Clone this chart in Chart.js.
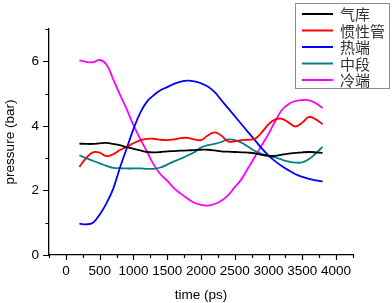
<!DOCTYPE html>
<html>
<head>
<meta charset="utf-8">
<script src="https://cdn.jsdelivr.net/npm/chart.js@4/dist/chart.umd.min.js"></script>
<style>
  html, body { margin: 0; padding: 0; background: #fff; }
  #wrap { width: 392px; height: 303px; }
</style>
</head>
<body>
<div id="wrap"><canvas id="pChart"></canvas></div>
<script>
// time axis (ps)
const times = [200, 300, 400, 500, 600, 700, 800, 900, 1000, 1100, 1200, 1300, 1400, 1500, 1600, 1700, 1800, 1900,
               2000, 2100, 2200, 2300, 2400, 2500, 2600, 2700, 2800, 2900, 3000, 3100, 3200, 3300, 3400, 3500, 3600, 3700, 3800];

// pressure (bar)
const reservoir = [3.45, 3.44, 3.44, 3.46, 3.47, 3.44, 3.40, 3.34, 3.29, 3.24, 3.19, 3.18, 3.19, 3.21, 3.22, 3.23, 3.24, 3.25,
                   3.26, 3.26, 3.24, 3.21, 3.20, 3.19, 3.18, 3.17, 3.15, 3.10, 3.07, 3.07, 3.11, 3.14, 3.16, 3.18, 3.19, 3.18, 3.16];
const inertance = [2.73, 3.00, 3.18, 3.17, 3.06, 3.12, 3.25, 3.35, 3.46, 3.55, 3.60, 3.60, 3.57, 3.56, 3.58, 3.62, 3.63, 3.58,
                   3.56, 3.70, 3.80, 3.70, 3.52, 3.52, 3.56, 3.57, 3.60, 3.80, 4.05, 4.20, 4.22, 4.10, 3.98, 4.10, 4.28, 4.20, 4.05];
const hotEnd    = [0.97, 0.95, 1.00, 1.25, 1.60, 2.05, 2.70, 3.30, 3.90, 4.40, 4.75, 4.95, 5.10, 5.20, 5.30, 5.37, 5.40, 5.38,
                   5.32, 5.22, 5.05, 4.80, 4.55, 4.30, 4.05, 3.80, 3.55, 3.30, 3.08, 2.90, 2.75, 2.62, 2.50, 2.42, 2.36, 2.31, 2.28];
const middle    = [3.09, 3.00, 2.92, 2.84, 2.76, 2.70, 2.69, 2.68, 2.68, 2.68, 2.67, 2.67, 2.71, 2.80, 2.90, 2.98, 3.08, 3.18,
                   3.33, 3.40, 3.44, 3.50, 3.58, 3.56, 3.48, 3.35, 3.22, 3.13, 3.07, 3.02, 2.95, 2.89, 2.86, 2.87, 2.97, 3.15, 3.35];
const coldEnd   = [6.03, 5.98, 5.97, 6.04, 5.90, 5.45, 4.97, 4.52, 4.02, 3.60, 3.20, 2.80, 2.50, 2.30, 2.07, 1.90, 1.75, 1.62,
                   1.55, 1.53, 1.58, 1.68, 1.85, 2.10, 2.35, 2.70, 3.05, 3.40, 3.75, 4.15, 4.50, 4.68, 4.77, 4.80, 4.79, 4.70, 4.55];

const seriesNames  = ['气库', '惯性管', '热端', '中段', '冷端'];
const seriesColors = ['#000000', '#ff0000', '#0000ff', '#008080', '#ff00ff'];
const seriesValues = [reservoir, inertance, hotEnd, middle, coldEnd];

const FONT = '"Liberation Sans", Arial, sans-serif';

function toPoints(ys) {
    return times.map((t, i) => ({ x: t, y: ys[i] }));
}

// Major/minor tick marks, outward, like the original plot
const tickMarks = {
    id: 'tickMarks',
    afterDraw(chart) {
        const ctx = chart.ctx;
        const xs = chart.scales.x, ys = chart.scales.y;
        const area = chart.chartArea;
        ctx.save();
        ctx.strokeStyle = '#000';
        ctx.lineWidth = 1.2;
        ctx.beginPath();
        for (let v = 0; v <= 7; v++) {
            const py = Math.round(ys.getPixelForValue(v)) + 0.5;
            const len = v % 2 === 0 ? 6 : 3.5;
            ctx.moveTo(area.left, py);
            ctx.lineTo(area.left - len, py);
        }
        for (let v = -250; v <= 4250; v += 250) {
            const px = Math.round(xs.getPixelForValue(v)) + 0.5;
            const len = v % 500 === 0 ? 5 : 3;
            ctx.moveTo(px, area.bottom);
            ctx.lineTo(px, area.bottom + len);
        }
        ctx.stroke();
        ctx.restore();
    }
};

// Boxed legend in the top right corner
const boxLegend = {
    id: 'boxLegend',
    afterDraw(chart) {
        const ctx = chart.ctx;
        const left = 295.5, top = 3.5, w = 94, h = 85;
        ctx.save();
        ctx.fillStyle = '#fff';
        ctx.fillRect(left, top, w, h);
        ctx.strokeStyle = '#8c8c8c';
        ctx.lineWidth = 1;
        ctx.strokeRect(left, top, w, h);
        ctx.font = '15px "Noto Sans CJK SC", sans-serif';
        ctx.textBaseline = 'middle';
        chart.data.datasets.forEach((ds, i) => {
            const y = 14 + i * 16.5;
            ctx.strokeStyle = ds.borderColor;
            ctx.lineWidth = 2;
            ctx.beginPath();
            ctx.moveTo(302, y);
            ctx.lineTo(333, y);
            ctx.stroke();
            ctx.fillStyle = '#333';
            ctx.fillText(ds.label, 340, y + 0.5);
        });
        ctx.restore();
    }
};

const ctx = document.getElementById('pChart').getContext('2d');
new Chart(ctx, {
    type: 'line',
    data: {
        datasets: seriesNames.map((name, i) => ({
            label: name,
            data: toPoints(seriesValues[i]),
            borderColor: seriesColors[i],
            backgroundColor: seriesColors[i],
            borderWidth: 1.8,
            pointRadius: 0,
            tension: 0.4,
            fill: false
        }))
    },
    options: {
        responsive: true,
        maintainAspectRatio: false,
        animation: false,
        layout: { padding: { left: 0, right: 39, top: 29, bottom: 0 } },
        plugins: {
            legend: { display: false },
            tooltip: { enabled: false }
        },
        scales: {
            x: {
                type: 'linear',
                min: -250,
                max: 4250,
                afterFit: (s) => { s.height = 48; },
                ticks: {
                    stepSize: 250,
                    autoSkip: false,
                    maxRotation: 0,
                    padding: 3,
                    color: '#000',
                    font: { family: FONT, size: 13.5 },
                    callback: (v) => (v >= 0 && v % 500 === 0) ? String(v) : ''
                },
                grid: { drawOnChartArea: false, drawTicks: true, tickLength: 5, tickColor: 'rgba(0,0,0,0)' },
                border: { display: true, color: '#000', width: 1.3 },
                title: {
                    display: true,
                    text: 'time (ps)',
                    color: '#000',
                    font: { family: FONT, size: 13.5 },
                    padding: { top: 0, bottom: 0 }
                }
            },
            y: {
                min: 0,
                max: 7,
                afterFit: (s) => { s.width = 49; },
                ticks: {
                    stepSize: 1,
                    padding: 4,
                    color: '#000',
                    font: { family: FONT, size: 13.5 },
                    callback: (v) => v % 2 === 0 ? String(v) : ''
                },
                grid: { drawOnChartArea: false, drawTicks: true, tickLength: 6, tickColor: 'rgba(0,0,0,0)' },
                border: { display: true, color: '#000', width: 1.3 },
                title: {
                    display: true,
                    text: 'pressure (bar)',
                    color: '#000',
                    font: { family: FONT, size: 13.5 },
                    padding: { top: 2, bottom: 0 }
                }
            }
        }
    },
    plugins: [tickMarks, boxLegend]
});
</script>
</body>
</html>
